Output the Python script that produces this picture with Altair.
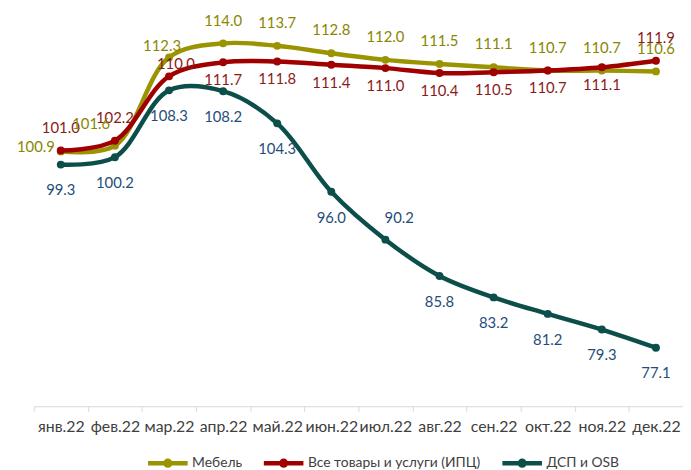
import altair as alt
import pandas as pd

months = ["янв.22", "фев.22", "мар.22", "апр.22", "май.22", "июн.22",
          "июл.22", "авг.22", "сен.22", "окт.22", "ноя.22", "дек.22"]
series_names = ["Мебель", "Все товары и услуги (ИПЦ)", "ДСП и OSB"]
mebel = [100.9, 101.6, 112.3, 114.0, 113.7, 112.8, 112.0, 111.5, 111.1, 110.7, 110.7, 110.6]
ipc = [101.0, 102.2, 110.0, 111.7, 111.8, 111.4, 111.0, 110.4, 110.5, 110.7, 111.1, 111.9]
dsp = [99.3, 100.2, 108.3, 108.2, 104.3, 96.0, 90.2, 85.8, 83.2, 81.2, 79.3, 77.1]

# label placement keywords per point
mebel_pos = ["left", "above_left", "above_near"] + ["above"] * 9
ipc_pos = ["above", "above", "above_right_near"] + ["below"] * 8 + ["above"]
dsp_pos = ["below_far"] * 6 + ["above_right"] + ["below_far"] * 5

line_colors = ["#9a9400", "#a00000", "#0c4f4a"]
label_colors = ["#8a8600", "#8b1a1a", "#1f4e79"]
line_widths = [4.5, 4.5, 2.5]

placements = {
    "above": (0, -23, "center"),
    "below": (0, 18, "center"),
    "below_far": (0, 26, "center"),
    "left": (-6, -4, "right"),
    "above_left": (-24, -22, "center"),
    "above_near": (-7, -11, "center"),
    "above_right_near": (7, -12, "center"),
    "above_right": (14, -22, "center"),
}

rows = []
for name, vals, poss in zip(series_names, [mebel, ipc, dsp], [mebel_pos, ipc_pos, dsp_pos]):
    for m, v, p in zip(months, vals, poss):
        rows.append({"month": m, "series": name, "value": v, "pos": p})
df = pd.DataFrame(rows)

FONT = "Lato"
legend_symbol = "M-1,0L1,0M-0.12,0A0.12,0.12,0,1,1,0.12,0A0.12,0.12,0,1,1,-0.12,0Z"
legend = alt.Legend(
    title=None, orient="none", legendX=113, legendY=435, direction="horizontal",
    symbolType=legend_symbol, symbolSize=1600, labelFont=FONT, labelFontSize=14,
    labelColor="#404040", columnPadding=12, labelOffset=2, labelLimit=400,
)

x_enc = alt.X("month:N", sort=months,
              scale=alt.Scale(type="band", domain=months, paddingInner=0, paddingOuter=0),
              axis=alt.Axis(title=None, labelAngle=0, labelFont=FONT, labelFontSize=16,
                            labelColor="#404040", domainColor="#d9d9d9", tickColor="#d9d9d9",
                            tickSize=5, tickBand="extent", labelPadding=8, labelOverlap=False,
                            grid=False))
y_enc = alt.Y("value:Q", scale=alt.Scale(domain=[70, 118], nice=False, zero=False), axis=None)

stroke_scale = alt.Scale(domain=series_names, range=line_colors)
sw_scale = alt.Scale(domain=series_names, range=line_widths)

base = alt.Chart(df)
layers = []
for name in series_names:
    sub = base.transform_filter(alt.datum.series == name)
    layers.append(sub.mark_line(interpolate="catmull-rom").encode(
        x=x_enc, y=y_enc,
        stroke=alt.Stroke("series:N", scale=stroke_scale, legend=legend),
        strokeWidth=alt.StrokeWidth("series:N", scale=sw_scale, legend=legend),
    ))
    layers.append(sub.mark_circle(size=64, opacity=1).encode(
        x=x_enc, y=y_enc,
        fill=alt.Fill("series:N", scale=stroke_scale, legend=legend),
    ))

for p, (dx, dy, align) in placements.items():
    layers.append(base.transform_filter(alt.datum.pos == p).mark_text(
        dx=dx, dy=dy, align=align, baseline="middle", font=FONT, fontSize=15
    ).encode(
        x=x_enc, y=y_enc,
        text=alt.Text("value:Q", format=".1f"),
        color=alt.Color("series:N", scale=alt.Scale(domain=series_names, range=label_colors), legend=None),
    ))

chart = alt.layer(*layers).properties(
    width=656, height=400,
    autosize=alt.AutoSizeParams(type="none"),
    padding={"left": 26, "top": 0, "right": 0, "bottom": 62},
).configure_view(stroke=None)

chart.save("out.html", embed_options={"renderer": "svg", "actions": False})
